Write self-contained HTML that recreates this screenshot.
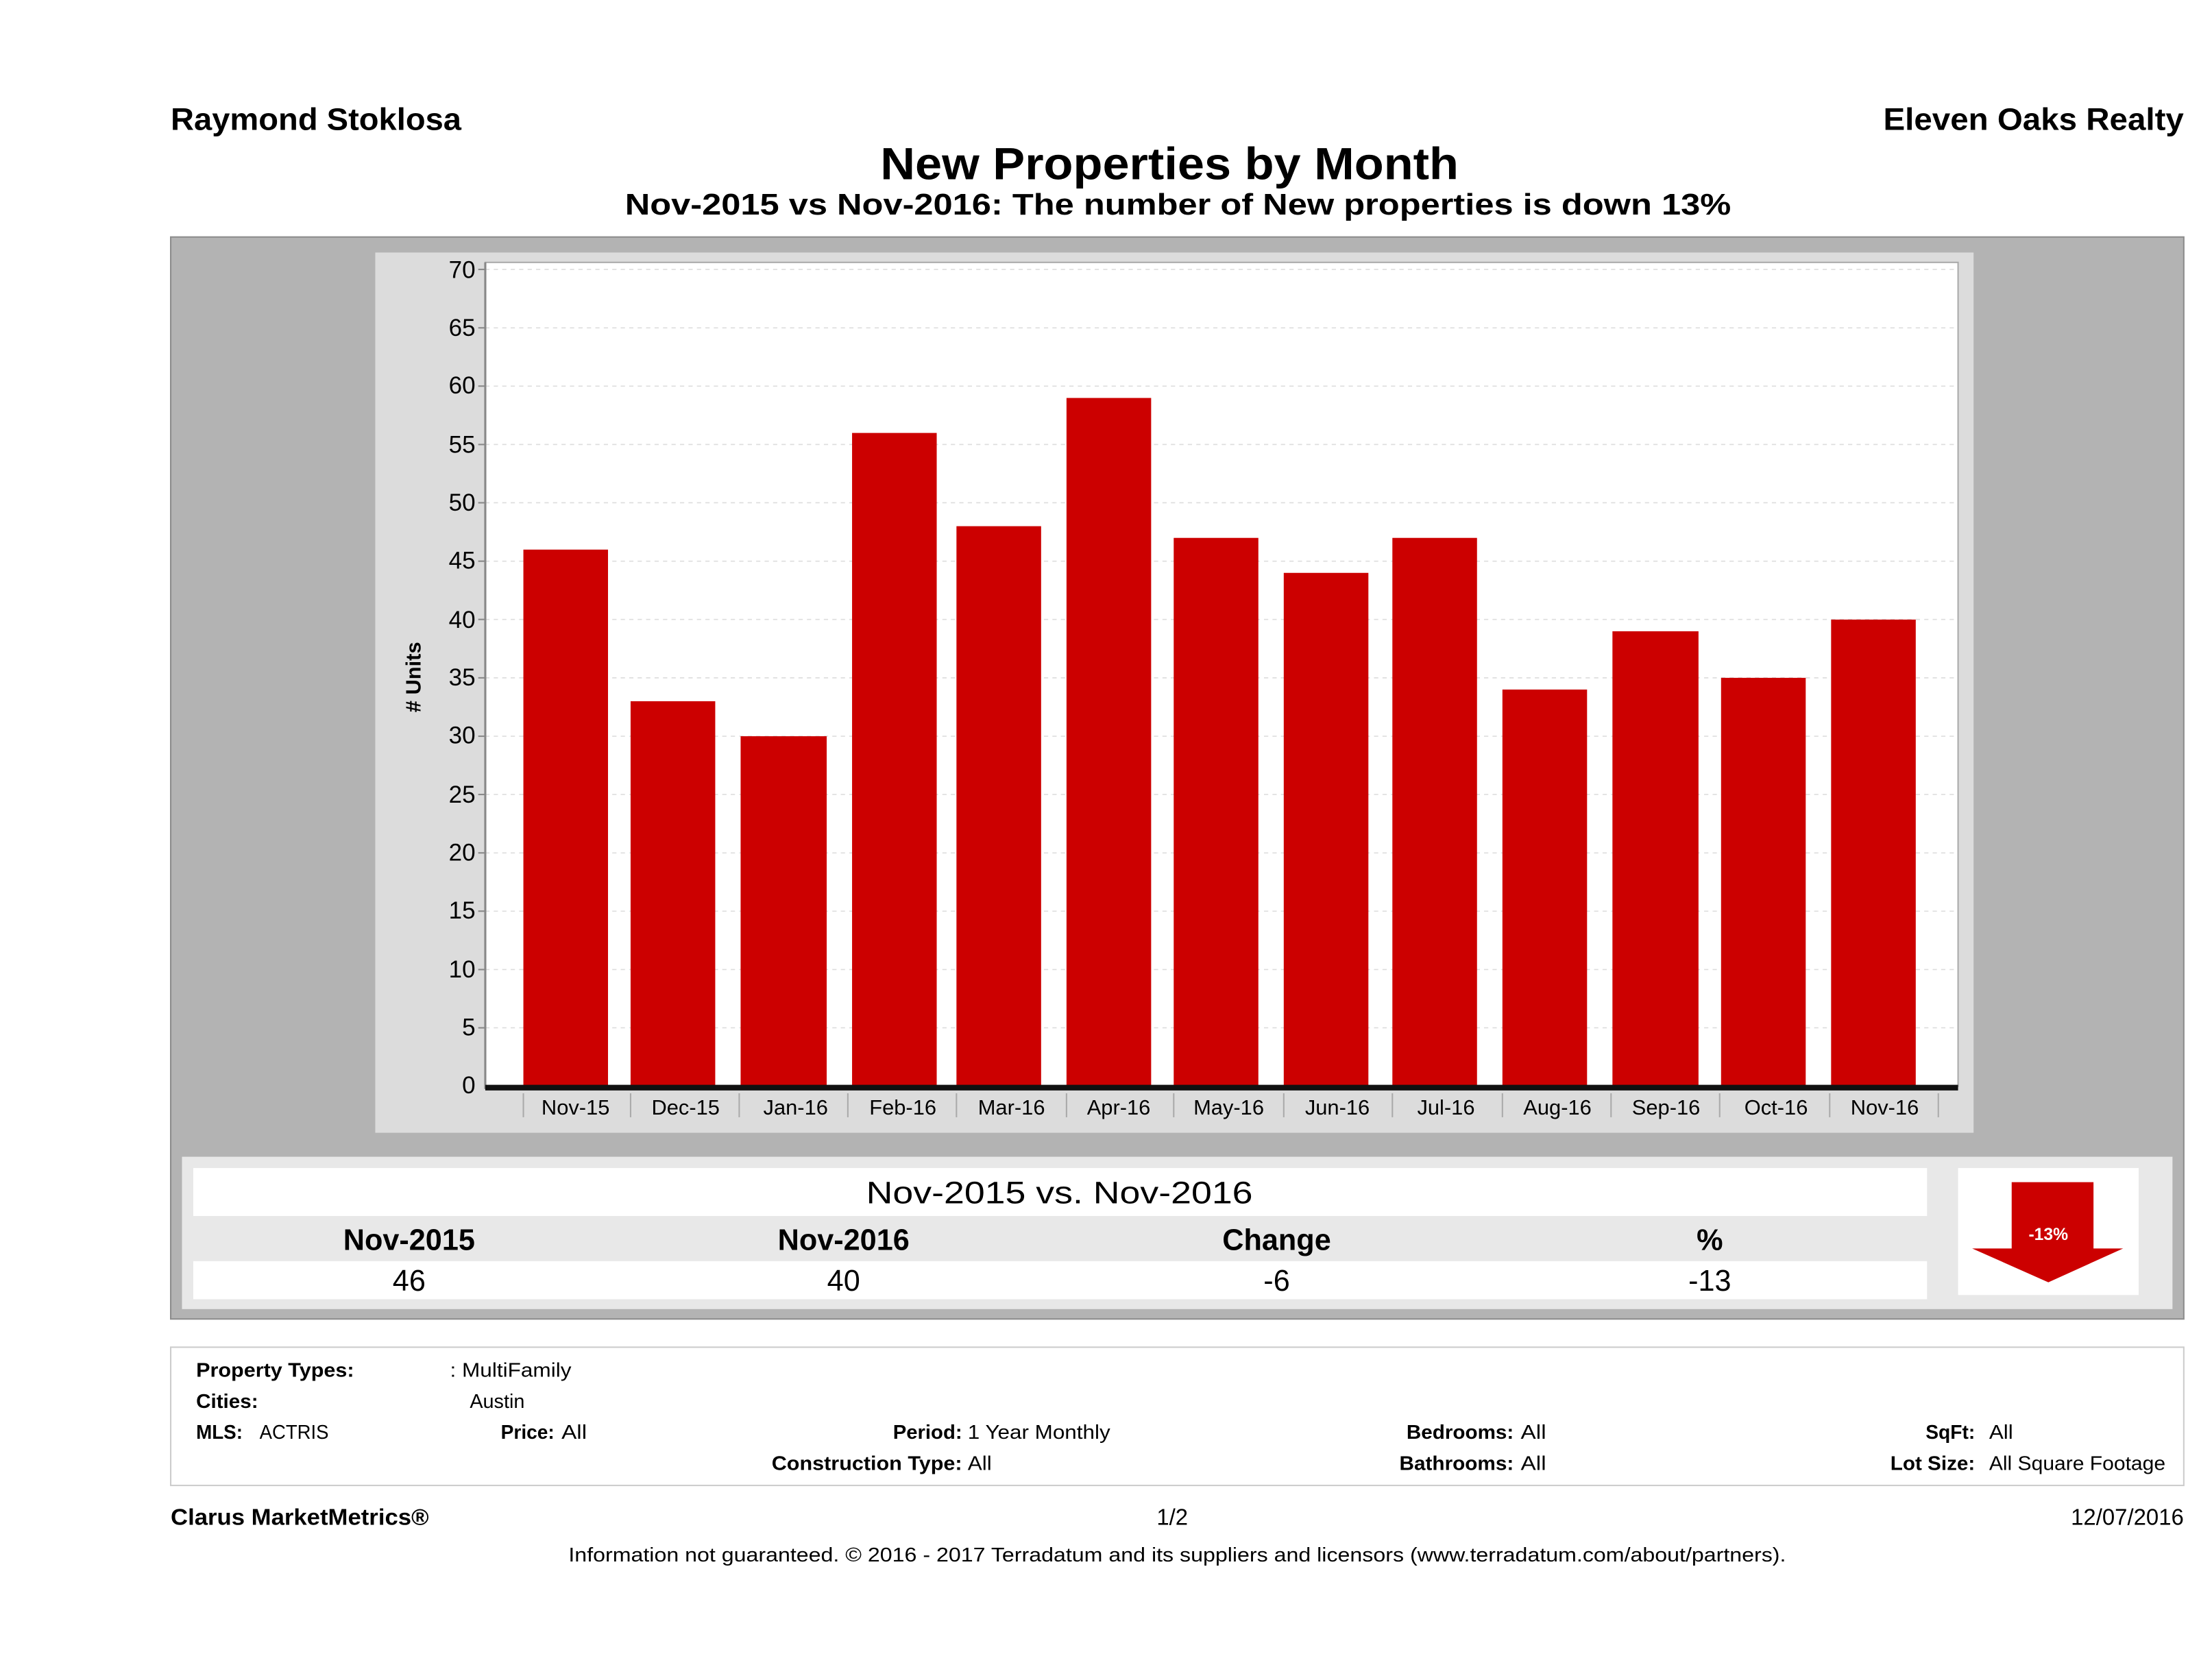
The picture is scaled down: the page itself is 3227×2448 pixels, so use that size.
<!DOCTYPE html>
<html><head><meta charset="utf-8"><style>
html,body{margin:0;padding:0;background:#fff;}
svg{display:block;}
text{font-family:"Liberation Sans",sans-serif;fill:#000;}
.b{font-weight:bold;}
</style></head><body>
<svg width="3227" height="2448" viewBox="0 0 1568 1189.5" preserveAspectRatio="none">
<rect width="1568" height="1190" fill="#fff"/>
<text x="121" y="92" class="b" font-size="22" textLength="206" lengthAdjust="spacingAndGlyphs">Raymond Stoklosa</text>
<text x="1335" y="92" class="b" font-size="22" textLength="213" lengthAdjust="spacingAndGlyphs">Eleven Oaks Realty</text>
<text x="624" y="127" class="b" font-size="32" textLength="410" lengthAdjust="spacingAndGlyphs">New Properties by Month</text>
<text x="443" y="152" class="b" font-size="21" textLength="784" lengthAdjust="spacingAndGlyphs">Nov-2015 vs Nov-2016: The number of New  properties is down 13%</text>

<rect x="121" y="168" width="1427" height="767" fill="#b3b3b3" stroke="#8c8c8c" stroke-width="1"/>
<rect x="266" y="179" width="1133" height="624" fill="#dcdcdc"/>
<rect x="344" y="186" width="1044" height="584" fill="#fff" stroke="#aaa" stroke-width="1"/>
<g stroke="#ddd" stroke-width="0.8" stroke-dasharray="3,3">
<line x1="344" x2="1388" y1="191" y2="191"/><line x1="344" x2="1388" y1="232.4" y2="232.4"/>
<line x1="344" x2="1388" y1="273.7" y2="273.7"/><line x1="344" x2="1388" y1="315.1" y2="315.1"/>
<line x1="344" x2="1388" y1="356.4" y2="356.4"/><line x1="344" x2="1388" y1="397.8" y2="397.8"/>
<line x1="344" x2="1388" y1="439.1" y2="439.1"/><line x1="344" x2="1388" y1="480.5" y2="480.5"/>
<line x1="344" x2="1388" y1="521.9" y2="521.9"/><line x1="344" x2="1388" y1="563.2" y2="563.2"/>
<line x1="344" x2="1388" y1="604.6" y2="604.6"/><line x1="344" x2="1388" y1="645.9" y2="645.9"/>
<line x1="344" x2="1388" y1="687.3" y2="687.3"/><line x1="344" x2="1388" y1="728.6" y2="728.6"/>
</g>
<line x1="344" y1="186" x2="344" y2="772" stroke="#888" stroke-width="1.5"/>
<g fill="#333" font-size="17" text-anchor="end">
<text x="337" y="197">70</text><text x="337" y="238">65</text><text x="337" y="279">60</text>
<text x="337" y="321">55</text><text x="337" y="362">50</text><text x="337" y="403">45</text>
<text x="337" y="445">40</text><text x="337" y="486">35</text><text x="337" y="527">30</text>
<text x="337" y="569">25</text><text x="337" y="610">20</text><text x="337" y="651">15</text>
<text x="337" y="693">10</text><text x="337" y="734">5</text><text x="337" y="775">0</text>
</g>
<g stroke="#888" stroke-width="1">
<line x1="339" x2="344" y1="191" y2="191"/><line x1="339" x2="344" y1="232.4" y2="232.4"/><line x1="339" x2="344" y1="273.7" y2="273.7"/><line x1="339" x2="344" y1="315.1" y2="315.1"/><line x1="339" x2="344" y1="356.4" y2="356.4"/><line x1="339" x2="344" y1="397.8" y2="397.8"/><line x1="339" x2="344" y1="439.1" y2="439.1"/><line x1="339" x2="344" y1="480.5" y2="480.5"/><line x1="339" x2="344" y1="521.9" y2="521.9"/><line x1="339" x2="344" y1="563.2" y2="563.2"/><line x1="339" x2="344" y1="604.6" y2="604.6"/><line x1="339" x2="344" y1="645.9" y2="645.9"/><line x1="339" x2="344" y1="687.3" y2="687.3"/><line x1="339" x2="344" y1="728.6" y2="728.6"/>
</g>
<text transform="translate(298,480) rotate(-90)" class="b" font-size="15" text-anchor="middle">#  Units</text>

<g fill="#cc0000">
<rect x="371" y="389.6" width="60" height="380.4"/>
<rect x="447" y="497.1" width="60" height="272.9"/>
<rect x="525" y="521.9" width="61" height="248.1"/>
<rect x="604" y="306.9" width="60" height="463.1"/>
<rect x="678" y="373.0" width="60" height="397.0"/>
<rect x="756" y="282.1" width="60" height="487.9"/>
<rect x="832" y="381.3" width="60" height="388.7"/>
<rect x="910" y="406.1" width="60" height="363.9"/>
<rect x="987" y="381.3" width="60" height="388.7"/>
<rect x="1065" y="488.8" width="60" height="281.2"/>
<rect x="1143" y="447.5" width="61" height="322.5"/>
<rect x="1220" y="480.5" width="60" height="289.5"/>
<rect x="1298" y="439.2" width="60" height="330.8"/>
</g>
<rect x="344" y="769" width="1044" height="4" fill="#111"/>
<g stroke="#aaa" stroke-width="1">
<line x1="371" x2="371" y1="775" y2="792"/><line x1="447" x2="447" y1="775" y2="792"/><line x1="524" x2="524" y1="775" y2="792"/><line x1="601" x2="601" y1="775" y2="792"/><line x1="678" x2="678" y1="775" y2="792"/><line x1="756" x2="756" y1="775" y2="792"/><line x1="832" x2="832" y1="775" y2="792"/><line x1="910" x2="910" y1="775" y2="792"/><line x1="987" x2="987" y1="775" y2="792"/><line x1="1065" x2="1065" y1="775" y2="792"/><line x1="1142" x2="1142" y1="775" y2="792"/><line x1="1219" x2="1219" y1="775" y2="792"/><line x1="1297" x2="1297" y1="775" y2="792"/><line x1="1374" x2="1374" y1="775" y2="792"/>
</g>
<g font-size="15" text-anchor="middle" fill="#111">
<text x="408" y="790">Nov-15</text><text x="486" y="790">Dec-15</text><text x="564" y="790">Jan-16</text>
<text x="640" y="790">Feb-16</text><text x="717" y="790">Mar-16</text><text x="793" y="790">Apr-16</text>
<text x="871" y="790">May-16</text><text x="948" y="790">Jun-16</text><text x="1025" y="790">Jul-16</text>
<text x="1104" y="790">Aug-16</text><text x="1181" y="790">Sep-16</text><text x="1259" y="790">Oct-16</text>
<text x="1336" y="790">Nov-16</text>
</g>

<rect x="129" y="820" width="1411" height="108" fill="#e8e8e8"/>
<rect x="137" y="828" width="1229" height="34" fill="#fff"/>
<rect x="137" y="894" width="1229" height="27" fill="#fff"/>
<text x="751" y="853" font-size="22" text-anchor="middle" textLength="274" lengthAdjust="spacingAndGlyphs">Nov-2015 vs. Nov-2016</text>
<g font-size="21" class="b" text-anchor="middle">
<text x="290" y="886">Nov-2015</text><text x="598" y="886">Nov-2016</text><text x="905" y="886">Change</text><text x="1212" y="886">%</text>
</g>
<g font-size="21" text-anchor="middle">
<text x="290" y="915">46</text><text x="598" y="915">40</text><text x="905" y="915">-6</text><text x="1212" y="915">-13</text>
</g>
<rect x="1388" y="828" width="128" height="90" fill="#fff"/>
<polygon points="1426,838 1484,838 1484,885 1505,885 1452,909 1398,885 1426,885" fill="#cc0000"/>
<text x="1452" y="879" font-size="12" class="b" fill="#fff" style="fill:#fff" text-anchor="middle">-13%</text>

<rect x="121" y="955" width="1427" height="98" fill="#fff" stroke="#ccc" stroke-width="1"/>
<g font-size="14">
<text x="139" y="976" class="b" textLength="112" lengthAdjust="spacingAndGlyphs">Property Types:</text>
<text x="319" y="976" textLength="86" lengthAdjust="spacingAndGlyphs">: MultiFamily</text>
<text x="139" y="998" class="b" textLength="44" lengthAdjust="spacingAndGlyphs">Cities:</text>
<text x="333" y="998">Austin</text>
<text x="139" y="1020" class="b" textLength="33" lengthAdjust="spacingAndGlyphs">MLS:</text>
<text x="184" y="1020" textLength="49" lengthAdjust="spacingAndGlyphs">ACTRIS</text>
<text x="355" y="1020" class="b" textLength="38" lengthAdjust="spacingAndGlyphs">Price:</text>
<text x="398" y="1020" textLength="18" lengthAdjust="spacingAndGlyphs">All</text>
<text x="633" y="1020" class="b" textLength="49" lengthAdjust="spacingAndGlyphs">Period:</text>
<text x="686" y="1020" textLength="101" lengthAdjust="spacingAndGlyphs">1 Year Monthly</text>
<text x="997" y="1020" class="b" textLength="76" lengthAdjust="spacingAndGlyphs">Bedrooms:</text>
<text x="1078" y="1020" textLength="18" lengthAdjust="spacingAndGlyphs">All</text>
<text x="1365" y="1020" class="b" textLength="35" lengthAdjust="spacingAndGlyphs">SqFt:</text>
<text x="1410" y="1020" textLength="17" lengthAdjust="spacingAndGlyphs">All</text>
<text x="547" y="1042" class="b" textLength="135" lengthAdjust="spacingAndGlyphs">Construction Type:</text>
<text x="686" y="1042" textLength="17" lengthAdjust="spacingAndGlyphs">All</text>
<text x="992" y="1042" class="b" textLength="81" lengthAdjust="spacingAndGlyphs">Bathrooms:</text>
<text x="1078" y="1042" textLength="18" lengthAdjust="spacingAndGlyphs">All</text>
<text x="1340" y="1042" class="b" textLength="60" lengthAdjust="spacingAndGlyphs">Lot Size:</text>
<text x="1410" y="1042" textLength="125" lengthAdjust="spacingAndGlyphs">All Square Footage</text>
</g>
<text x="121" y="1081" class="b" font-size="16" textLength="183" lengthAdjust="spacingAndGlyphs">Clarus MarketMetrics®</text>
<text x="831" y="1081" font-size="16" text-anchor="middle">1/2</text>
<text x="1548" y="1081" font-size="16" text-anchor="end">12/07/2016</text>
<text x="403" y="1107" font-size="14" textLength="863" lengthAdjust="spacingAndGlyphs">Information not guaranteed. © 2016 - 2017 Terradatum and its suppliers and licensors (www.terradatum.com/about/partners).</text>
</svg>
</body></html>
